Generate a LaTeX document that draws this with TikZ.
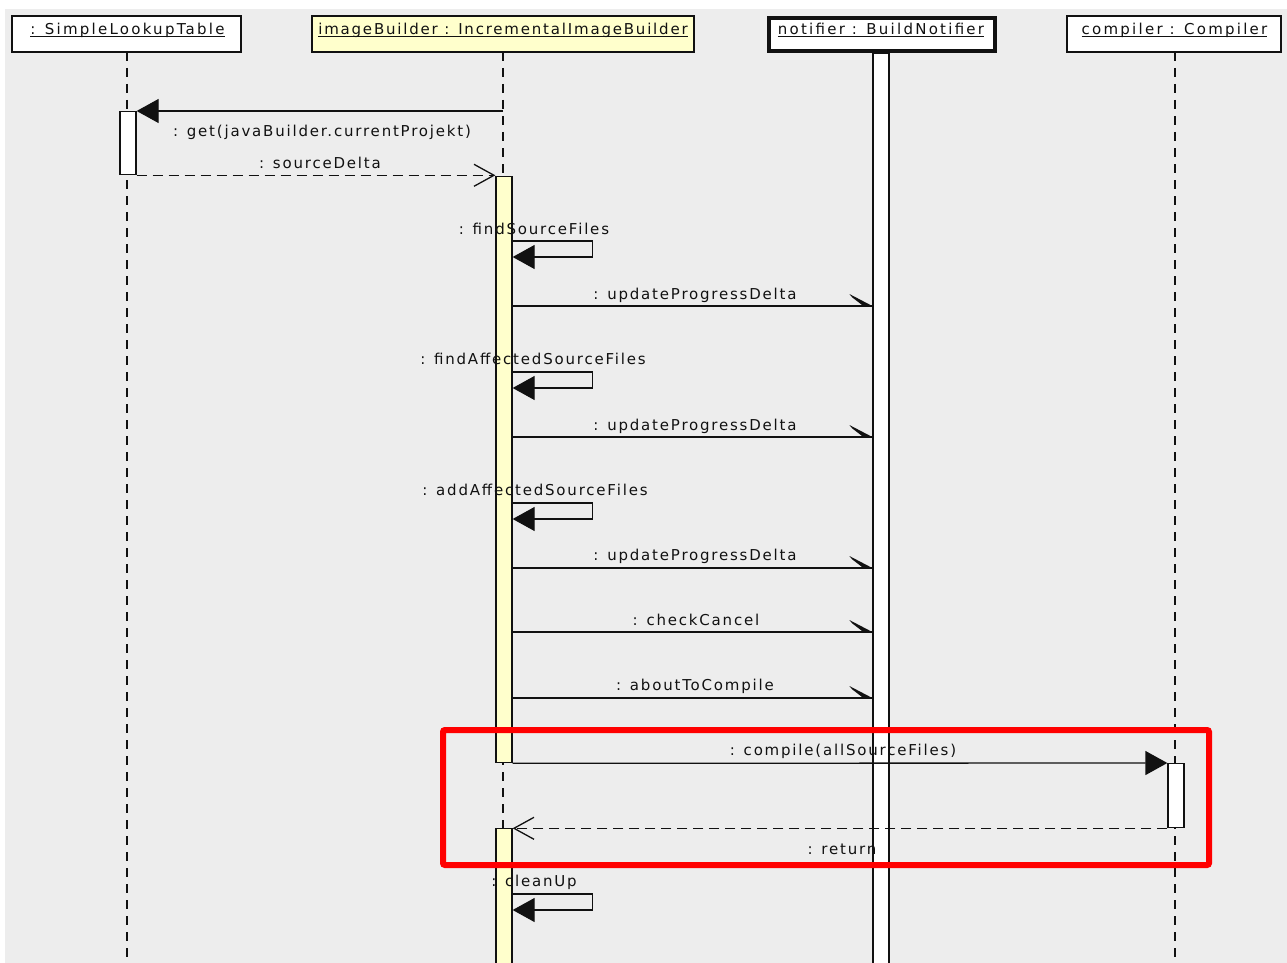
\documentclass[tikz,border=0pt]{standalone}
\usepackage{fontspec}
\newfontfamily\umlfont[LetterSpace=12]{DejaVu Sans}
\newfontfamily\ttlfont[LetterSpace=15]{DejaVu Sans}
\newfontfamily\ttlfontn[LetterSpace=12]{DejaVu Sans}
\usetikzlibrary{arrows.meta}
\definecolor{bg}{HTML}{EDEDED}
\definecolor{ylw}{HTML}{FFFFCC}
\definecolor{ln}{HTML}{111111}
\newcommand\ulx[1]{\setbox0\hbox{#1}\rlap{\rule[-2.5pt]{\wd0}{1pt}}\box0}
\newcommand\halfhead[1]{\fill[ln] (#1) -- ++(-23,-12) -- ++(3,3.5) -- ++(11,8.5) -- cycle;}
\begin{document}
\begin{tikzpicture}[x=1pt,y=-1pt,
  font=\umlfont\fontsize{15}{17}\selectfont,
  head/.style={draw=ln, line width=1.5pt, fill=white, minimum height=36pt, inner sep=0pt},
  ttl/.style={inner sep=0pt, anchor=base, text=ln, font=\ttlfont\fontsize{15}{17}\selectfont},
  lbl/.style={inner sep=0pt, anchor=base, text=ln},
  act/.style={draw=ln, line width=1.3pt, minimum width=16pt, inner sep=0pt, anchor=north},
  life/.style={draw=ln, line width=1.5pt, dash pattern=on 9pt off 7pt},
  msg/.style={draw=ln, line width=1.3pt},
  sync/.style={msg, -{Triangle[length=22pt,width=24pt]}},
  ret/.style={msg, dash pattern=on 10pt off 6pt, -{Straight Barb[length=20pt,width=22pt,line width=1.3pt]}},
  hl/.style={draw=red, line width=6pt, rounded corners=2pt}
]
\useasboundingbox (0,0) rectangle (1287,963);
\fill[bg] (5,9) rectangle (1287,963);

% heads
\node[head, minimum width=229pt] (slt) at (126.5,34) {};
\node[head, minimum width=382pt, fill=ylw] (ib) at (503,34) {};
\node[head, minimum width=226pt, minimum height=33pt, line width=4pt] (nf) at (882,35) {};
\node[head, minimum width=214pt] (cp) at (1174,34) {};
\node[ttl] (tslt) at (127.5,35) {\ulx{: SimpleLookupTable}};
\node[ttl, font=\ttlfontn\fontsize{15}{17}\selectfont] (tib) at (503,35) {\ulx{imageBuilder : IncrementalImageBuilder}};
\node[ttl] (tnf) at (881,35) {\ulx{notifier : BuildNotifier}};
\node[ttl] (tcp) at (1174.5,35) {\ulx{compiler : Compiler}};

% lifelines
\coordinate (sltend) at (127,963);
\coordinate (ibend) at (503,963);
\coordinate (cpend) at (1175,963);
\draw[life] (127,52) -- (sltend);
\draw[life] (503,52) -- (ibend);
\draw[life] (1175,52) -- (cpend);

% activations
\node[act, fill=white, minimum height=912pt] (na) at (881,53) {};
\node[act, fill=white, minimum height=63pt] (sa) at (128,111) {};
\node[act, fill=ylw, minimum height=586pt] (ia1) at (504,176) {};
\node[act, fill=white, minimum height=64pt] (ca) at (1176,763) {};
\node[act, fill=ylw, minimum height=145pt] (ia2) at (504,828) {};

% messages
\coordinate (m1) at (503,111);
\draw[sync] (m1) -- (sa.north east);
\draw[ret] (sa.south east) -- (sa.south east -| ia1.west);

\coordinate (s1) at (ia1.east |- 0,241);
\draw[sync] (s1) -- ++(80,0) -- ++(0,16) -- ++(-80,0);
\coordinate (s2) at (ia1.east |- 0,372);
\draw[sync] (s2) -- ++(80,0) -- ++(0,16) -- ++(-80,0);
\coordinate (s3) at (ia1.east |- 0,503);
\draw[sync] (s3) -- ++(80,0) -- ++(0,16) -- ++(-80,0);
\coordinate (s4) at (ia2.east |- 0,894);
\draw[sync] (s4) -- ++(80,0) -- ++(0,16) -- ++(-80,0);

\foreach \yy/\nm in {306/a1, 437/a2, 568/a3, 632/a4, 698/a5}{
  \coordinate (\nm s) at (ia1.east |- 0,\yy);
  \coordinate (\nm e) at (na.west |- 0,\yy);
  \draw[msg] (\nm s) -- (\nm e);
  \halfhead{\nm e}
}

\draw[sync] (ia1.south east) -- (ca.north west);
\draw[ret] (ca.south west) -- (ca.south west -| ia2.east);

% labels
\node[lbl] at (322,136) {: get(javaBuilder.currentProjekt)};
\node[lbl] at (320,168) {: sourceDelta};
\node[lbl] at (534,234) {: findSourceFiles};
\node[lbl] at (695,299) {: updateProgressDelta};
\node[lbl] at (533,364) {: findAffectedSourceFiles};
\node[lbl] at (695,430) {: updateProgressDelta};
\node[lbl] at (535,495) {: addAffectedSourceFiles};
\node[lbl] at (695,560) {: updateProgressDelta};
\node[lbl] at (696,625) {: checkCancel};
\node[lbl] at (695,690) {: aboutToCompile};
\node[lbl] at (843,755) {: compile(allSourceFiles)};
\node[lbl] at (842,854) {: return};
\node[lbl] at (534,886) {: cleanUp};

% highlight
\draw[hl] (443,730) rectangle (1209,865);
\end{tikzpicture}
\end{document}
